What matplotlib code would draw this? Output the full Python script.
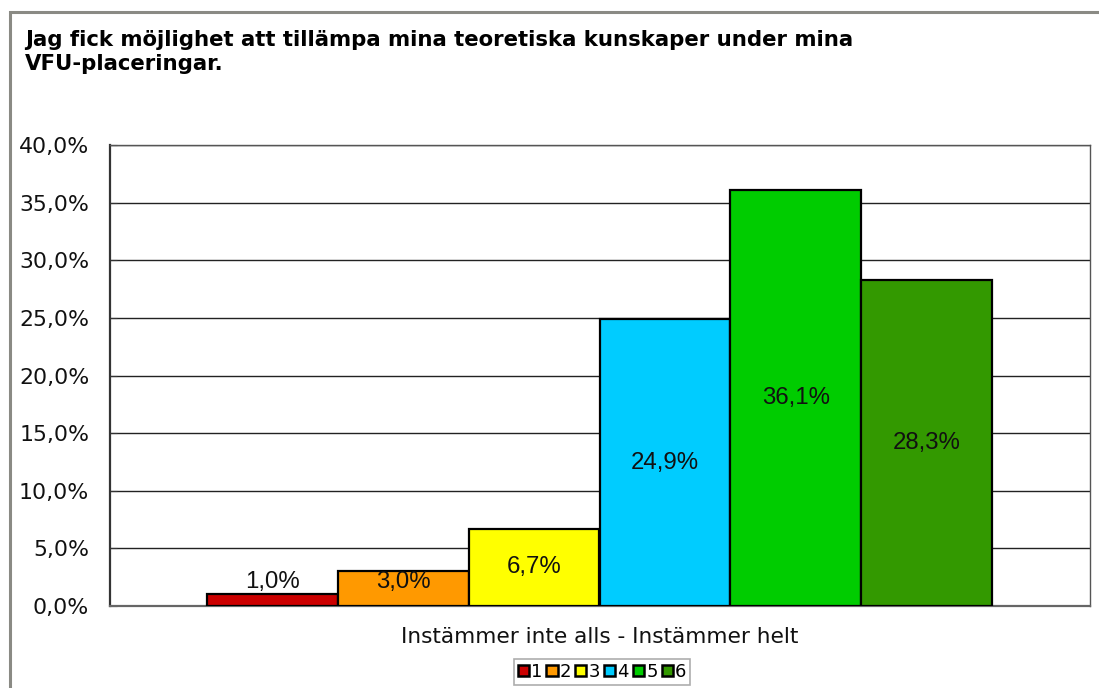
import matplotlib.pyplot as plt
from matplotlib.patches import Rectangle
from matplotlib.ticker import FuncFormatter

# data
categories = ["1", "2", "3", "4", "5", "6"]
values = [0.010, 0.030, 0.067, 0.249, 0.361, 0.283]
colors = ["#CC0000", "#FF9900", "#FFFF00", "#00CCFF", "#00CC00", "#339900"]
title = "Jag fick möjlighet att tillämpa mina teoretiska kunskaper under mina\nVFU-placeringar."
xlabel = "Instämmer inte alls - Instämmer helt"

W, H = 1099, 688
fig = plt.figure(figsize=(W / 100, H / 100), dpi=100)

# outer chart frame (runs off the right and bottom edges)
fig.patches.append(
    Rectangle((10 / W, -0.05), 1.2, (H - 12) / H + 0.05, transform=fig.transFigure,
              fill=False, edgecolor="#8a8a84", linewidth=2.2, zorder=0)
)

ax = fig.add_axes([110 / W, (H - 606) / H, 980 / W, 461 / H])

bar_w = (992 - 207) / 980 / 6
x0 = (207 - 110) / 980
xs = [x0 + bar_w * (i + 0.5) for i in range(len(values))]

bars = ax.bar(xs, values, width=bar_w, color=colors, edgecolor="black",
              linewidth=1.6, zorder=3, label=categories)

for x, v in zip(xs, values):
    y = max(v / 2, 0.0205)
    ax.text(x, y, f"{v * 100:.1f}%".replace(".", ","), ha="center", va="center",
            fontsize=17.3, family="Liberation Sans", color="#111111", zorder=4)

ax.set_xlim(0, 1)
ax.set_ylim(0, 0.40)
ax.set_yticks([i * 0.05 for i in range(9)])
ax.yaxis.set_major_formatter(FuncFormatter(lambda v, p: f"{v * 100:.1f}%".replace(".", ",")))
ax.set_xticks([])
ax.tick_params(axis="y", labelsize=15.8, length=5, direction="in", color="#333333",
               pad=15, labelcolor="#111111")
ax.grid(axis="y", color="#222222", linewidth=1.0, zorder=1)

for side in ["top", "right"]:
    ax.spines[side].set_color("#555555")
    ax.spines[side].set_linewidth(1.0)
ax.spines["left"].set_color("#333333")
ax.spines["left"].set_linewidth(1.6)
ax.spines["bottom"].set_color("#666666")
ax.spines["bottom"].set_linewidth(1.6)

ax.set_xlabel(xlabel, fontsize=15.6, labelpad=15, color="#111111")

fig.text(25 / W, 1 - 30 / H, title, fontsize=15.3, fontweight="bold",
         va="top", ha="left", linespacing=1.22)

leg = ax.legend(bars, categories, loc="center", bbox_to_anchor=(492 / 980, -(672 - 606) / 461),
                ncol=6, fontsize=13, frameon=True, fancybox=False, handlelength=0.62,
                handleheight=0.62, handletextpad=0.12, columnspacing=0.22,
                borderpad=0.2, borderaxespad=0)
leg.get_frame().set_edgecolor("#999999")
leg.get_frame().set_linewidth(1.2)
for h in leg.legend_handles:
    h.set_edgecolor("black")
    h.set_linewidth(1.8)

fig.savefig("out.png", dpi=100)
